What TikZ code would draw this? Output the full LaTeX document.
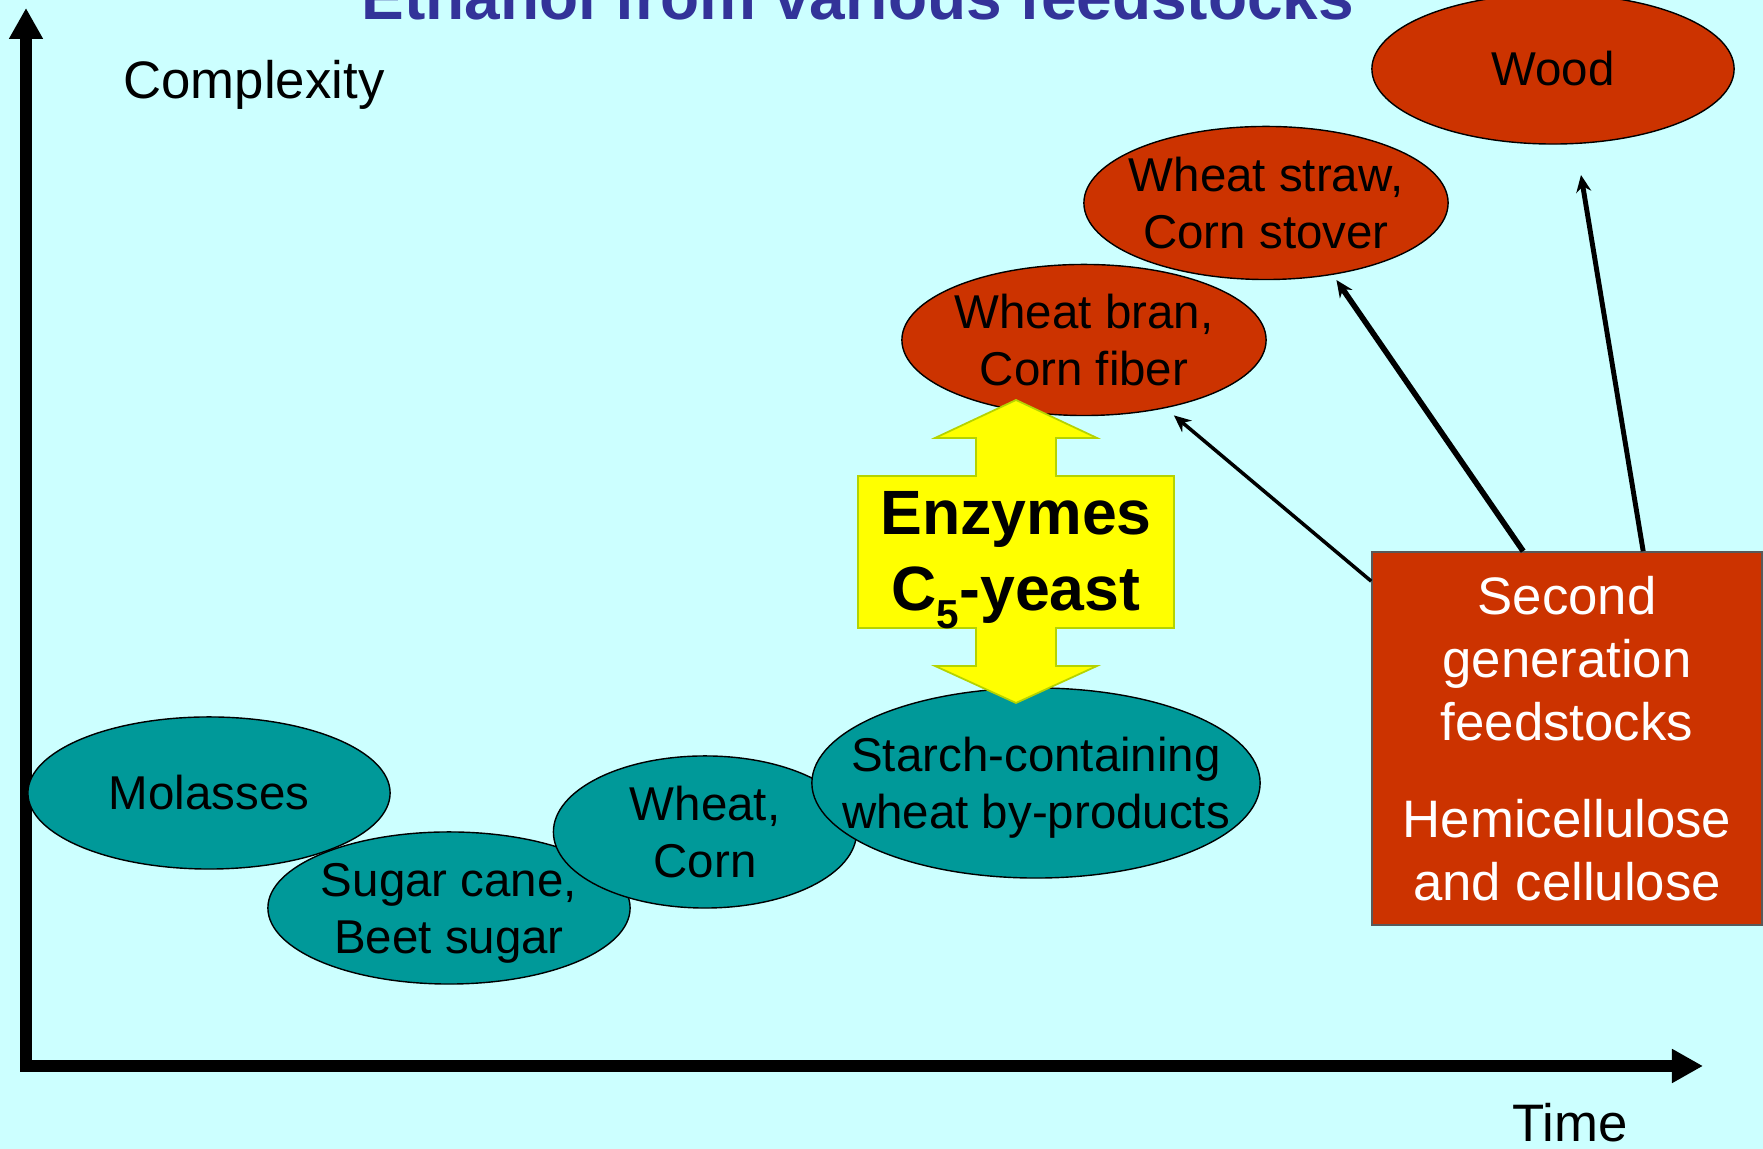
\documentclass[tikz,border=0pt]{standalone}
\usepackage{fontspec}
\setmainfont{Liberation Sans}
\usetikzlibrary{arrows.meta,shapes.geometric,positioning}
\definecolor{bgcyan}{HTML}{CCFFFF}
\definecolor{cropteal}{HTML}{009999}
\definecolor{strawred}{HTML}{CC3300}
\definecolor{enzyellow}{HTML}{FFFF00}
\definecolor{enzedge}{HTML}{B5D300}
\definecolor{titleblue}{HTML}{333399}

\begin{document}
\begin{tikzpicture}[x=0.01cm,y=0.01cm,>={Stealth[length=0.17cm,width=0.15cm]},
  feed/.style={ellipse,draw=black,line width=0.4pt,inner sep=0pt,outer sep=0pt},
  firstgen/.style={feed,fill=cropteal},
  secondgen/.style={feed,fill=strawred},
  feedtext/.style={align=center,font=\fontsize{13.5}{16.2}\selectfont},
  axislabel/.style={anchor=base,font=\fontsize{15}{18}\selectfont}]
\useasboundingbox (0,0) rectangle (1763,1149);
\clip (0,0) rectangle (1763,1149);
\fill[bgcyan] (0,0) rectangle (1763,1149);

% title, cut off at the top
\node (title) [anchor=base,text=titleblue,font=\bfseries\fontsize{18.2}{22}\selectfont] at (858,1129) {Ethanol from various feedstocks};

% axes
\coordinate (ytip) at (26,1141);
\coordinate (xtip) at (1703,83);
\draw[line width=0.12cm,{Triangle[length=0.31cm,width=0.32cm]}-{Triangle[length=0.31cm,width=0.32cm]}] (ytip) |- (xtip);
\node (complexity) [axislabel] at (254,1050) {Complexity};
\node (time) [axislabel] at (1570,7) {Time};

% second generation
\node (wood) [secondgen,minimum width=3.62cm,minimum height=1.50cm] at (1553,1080) {};
\node (woodtext) [feedtext] at (wood) {Wood};
\node (straw) [secondgen,minimum width=3.64cm,minimum height=1.53cm] at (1266,946) {};
\node (strawtext) [feedtext] at (straw) {Wheat straw,\\Corn stover};
\node (bran) [secondgen,minimum width=3.64cm,minimum height=1.51cm] at (1084,809) {};
\node (brantext) [feedtext] at (bran) {Wheat bran,\\Corn fiber};

% first generation
\node (molasses) [firstgen,minimum width=3.62cm,minimum height=1.52cm] at (209,356) {};
\node (molassestext) [feedtext] at (molasses) {Molasses};
\node (sugar) [firstgen,minimum width=3.62cm,minimum height=1.52cm] at (449,241) {};
\node (sugartext) [feedtext,yshift=-0.05cm] at (sugar) {Sugar cane,\\Beet sugar};
\node (wheat) [firstgen,minimum width=3.03cm,minimum height=1.52cm] at (705,317) {};
\node (wheattext) [feedtext] at (wheat) {Wheat,\\Corn};
\node (starch) [firstgen,minimum width=4.48cm,minimum height=1.90cm] at (1036,366) {};
\node (starchtext) [feedtext,yshift=-0.05cm] at (starch) {Starch-containing\\wheat by-products};

% enzymes
\filldraw[fill=enzyellow,draw=enzedge,line width=0.5pt] (1016,749) -- (1097,711) -- (1056,711) -- (1056,673) -- (1174,673) -- (1174,521) -- (1056,521) -- (1056,483) -- (1097,483) -- (1016,446) -- (935,483) -- (976,483) -- (976,521) -- (858,521) -- (858,673) -- (976,673) -- (976,711) -- (935,711) -- cycle;
\node (enz) [align=center,font=\bfseries\fontsize{17.8}{21.8}\selectfont] at (1016,589) {Enzymes\\C\raisebox{-5pt}{\fontsize{11.5}{11.5}\selectfont 5}-yeast};

\node (sgf) [draw=gray!70!black,fill=strawred,text=white,line width=0.4pt,minimum width=3.90cm,minimum height=3.73cm,align=center,font=\fontsize{15}{18}\selectfont] at (1567,410.5) {Second\\generation\\feedstocks\\[0.33cm]Hemicellulose\\and cellulose};

\draw[->,line width=1pt,shorten >=0.12cm] ([shift={(0,-30)}]sgf.north west) -- (bran.-40);
\draw[->,line width=1.6pt,shorten >=0.07cm] ([shift={(152,0)}]sgf.north west) -- (straw.-47);
\draw[->,line width=1.4pt,shorten >=0.32cm] ([shift={(272,0)}]sgf.north west) -- (wood.-73);
\end{tikzpicture}
\end{document}
